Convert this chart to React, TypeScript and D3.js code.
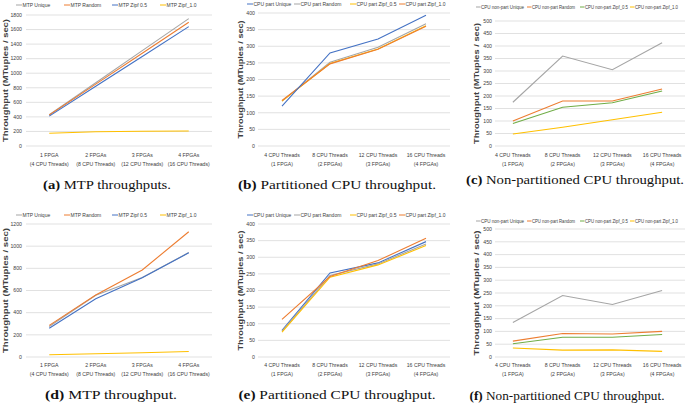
import React from "react";
import * as d3 from "d3";

// ---------- data ----------
const mtpCats = [
  ["1 FPGA", "(4 CPU Threads)"],
  ["2 FPGAs", "(8 CPU Threads)"],
  ["3 FPGAs", "(12 CPU Threads)"],
  ["4 FPGAs", "(16 CPU Threads)"],
];
const cpuCats = [
  ["4 CPU Threads", "(1 FPGA)"],
  ["8 CPU Threads", "(2 FPGAs)"],
  ["12 CPU Threads", "(3 FPGAs)"],
  ["16 CPU Threads", "(4 FPGAs)"],
];

// (a)
const aNames = ["MTP Unique", "MTP Random", "MTP Zipf 0.5", "MTP Zipf_1.0"];
const aUnique = [430, 870, 1310, 1750];
const aRandom = [425, 850, 1275, 1700];
const aZipf05 = [410, 820, 1230, 1640];
const aZipf10 = [175, 195, 202, 207];
const aTicks = [0, 200, 400, 600, 800, 1000, 1200, 1400, 1600, 1800];

// (b)
const bNames = ["CPU part Unique", "CPU part Random", "CPU part Zipf_0.5", "CPU part Zipf_1.0"];
const bUnique = [120, 280, 322, 393];
const bRandom = [135, 252, 297, 368];
const bZipf05 = [135, 248, 292, 362];
const bZipf10 = [137, 247, 291, 360];
const bTicks = [0, 50, 100, 150, 200, 250, 300, 350, 400];

// (c)
const cNames = ["CPU non-part Unique", "CPU non-part Random", "CPU non-part Zipf_0.5", "CPU non-part Zipf_1.0"];
const cUnique = [175, 360, 305, 413];
const cRandom = [100, 180, 180, 228];
const cZipf05 = [90, 155, 173, 220];
const cZipf10 = [48, 75, 105, 135];
const cTicks = [0, 50, 100, 150, 200, 250, 300, 350, 400, 450, 500];

// (d)
const dNames = ["MTP Unique", "MTP Random", "MTP Zipf 0.5", "MTP Zipf_1.0"];
const dUnique = [275, 557, 718, 942];
const dRandom = [285, 560, 785, 1130];
const dZipf05 = [260, 525, 715, 940];
const dZipf10 = [20, 30, 38, 50];
const dTicks = [0, 200, 400, 600, 800, 1000, 1200];

// (e)
const eNames = bNames;
const eUnique = [80, 253, 283, 347];
const eRandom = [78, 245, 280, 340];
const eZipf05 = [75, 240, 277, 335];
const eZipf10 = [113, 242, 290, 357];
const eTicks = bTicks;

// (f)
const fNames = cNames;
const fUnique = [135, 240, 205, 260];
const fRandom = [62, 92, 90, 100];
const fZipf05 = [52, 77, 77, 88];
const fZipf10 = [35, 27, 28, 22];
const fTicks = cTicks;

// ---------- styles ----------
const GRAY = "#A5A5A5";
const ORANGE = "#ED7D31";
const BLUE = "#4472C4";
const YELLOW = "#FFC000";
const GREEN = "#70AD47";
const GRID = "#D9D9D9";
const TXT = "#404040";
const SANS = "'Liberation Sans', Arial, sans-serif";
const SERIF = "'Liberation Serif', 'DejaVu Serif', serif";

type Series = { name: string; values: number[]; color: string };

type PanelProps = {
  cats: string[][];
  series: Series[];
  ticks: number[];
  bandX: [number, number];
  gridX: [number, number];
  yRange: [number, number];
  tickRight: number;
  titleX: number;
  titleLen: number;
  legendY: number;
  legendX: number[];
  legendLen?: number;
  legendLine?: number;
  catY: number;
  captionLabel: string;
  captionText: string;
  captionX: number;
  captionY: number;
  captionLen: number;
  drawOrder?: number[];
};

function Panel(p: PanelProps) {
  const x = d3
    .scalePoint<number>()
    .domain(p.cats.map((_, i) => i))
    .range(p.bandX)
    .padding(0.5);
  const yMax = p.ticks[p.ticks.length - 1];
  const y = d3.scaleLinear().domain([0, yMax]).range(p.yRange);
  const line = d3
    .line<number>()
    .x((_, i) => x(i) as number)
    .y((d) => y(d));
  const titleCenter = (p.yRange[0] + p.yRange[1]) / 2;
  const order = p.drawOrder ?? p.series.map((_, i) => i);
  const ll = p.legendLine ?? 6;
  return (
    <g>
      {p.ticks.map((t) => (
        <g key={t}>
          <line
            x1={p.gridX[0]}
            x2={p.gridX[1]}
            y1={y(t)}
            y2={y(t)}
            stroke={GRID}
            strokeWidth={0.8}
          />
          <text
            x={p.tickRight}
            y={y(t)}
            dy="0.35em"
            textAnchor="end"
            fontSize={5.2}
            fontFamily={SANS}
            fill={TXT}
          >
            {t}
          </text>
        </g>
      ))}
      <text
        transform={`translate(${p.titleX},${titleCenter}) rotate(-90)`}
        textAnchor="middle"
        dy="0.35em"
        fontSize={7.2}
        fontWeight="bold"
        fontFamily={SANS}
        fill={TXT}
        textLength={p.titleLen}
        lengthAdjust="spacingAndGlyphs"
      >
        Throughput (MTuples / sec)
      </text>
      {p.cats.map((c, i) => (
        <g key={i}>
          <text x={x(i)} y={p.catY} textAnchor="middle" fontSize={5.2} fontFamily={SANS} fill={TXT}>
            {c[0]}
          </text>
          <text x={x(i)} y={p.catY + 9} textAnchor="middle" fontSize={5.2} fontFamily={SANS} fill={TXT}>
            {c[1]}
          </text>
        </g>
      ))}
      {order.map((k) => {
        const s = p.series[k];
        return (
          <path key={s.name} d={line(s.values) ?? ""} fill="none" stroke={s.color} strokeWidth={1.1} />
        );
      })}
      {p.series.map((s, i) => (
        <g key={"lg" + s.name}>
          <line
            x1={p.legendX[i]}
            x2={p.legendX[i] + ll}
            y1={p.legendY}
            y2={p.legendY}
            stroke={s.color}
            strokeWidth={1}
          />
          <text
            x={p.legendX[i] + ll + 0.5}
            y={p.legendY}
            dy="0.35em"
            fontSize={5}
            fontFamily={SANS}
            fill={TXT}
            textLength={p.legendLen}
            lengthAdjust={p.legendLen ? "spacingAndGlyphs" : undefined}
          >
            {s.name}
          </text>
        </g>
      ))}
      <text
        x={p.captionX}
        y={p.captionY}
        textAnchor="middle"
        fontSize={12.5}
        fontFamily={SERIF}
        fill="#111"
        textLength={p.captionLen}
        lengthAdjust="spacingAndGlyphs"
      >
        <tspan fontWeight="bold">{p.captionLabel}</tspan>
        <tspan> {p.captionText}</tspan>
      </text>
    </g>
  );
}

function mk(names: string[], vals: number[][], colors: string[]): Series[] {
  return names.map((n, i) => ({ name: n, values: vals[i], color: colors[i] }));
}

export default function App() {
  const mtpColors = [GRAY, ORANGE, BLUE, YELLOW];
  const partColors = [BLUE, GRAY, YELLOW, ORANGE];
  const nonColors = [GRAY, ORANGE, GREEN, YELLOW];
  return (
    <svg
      width={685}
      height={403}
      style={{ position: "absolute", left: 0, top: 0, background: "#fff" }}
    >
      <Panel
        cats={mtpCats}
        series={mk(aNames, [aUnique, aRandom, aZipf05, aZipf10], mtpColors)}
        ticks={aTicks}
        bandX={[26, 212]}
        gridX={[26, 212]}
        yRange={[146, 15]}
        tickRight={22}
        titleX={5}
        titleLen={123}
        legendY={5}
        legendX={[16, 64, 112, 160]}
        catY={157}
        captionLabel="(a)"
        captionText="MTP throughputs."
        captionX={107}
        captionY={189}
        captionLen={128}
      />
      <Panel
        cats={cpuCats}
        series={mk(bNames, [bUnique, bRandom, bZipf05, bZipf10], partColors)}
        ticks={bTicks}
        bandX={[258, 450]}
        gridX={[258, 450]}
        yRange={[146, 13]}
        tickRight={255}
        titleX={240}
        titleLen={118}
        legendY={4}
        legendX={[247, 294, 350, 399]}
        catY={157}
        captionLabel="(b)"
        captionText="Partitioned CPU throughput."
        captionX={337}
        captionY={189}
        captionLen={198}
        drawOrder={[1, 2, 3, 0]}
      />
      <Panel
        cats={cpuCats}
        series={mk(cNames, [cUnique, cRandom, cZipf05, cZipf10], nonColors)}
        ticks={cTicks}
        bandX={[488, 687]}
        gridX={[495, 685]}
        yRange={[146, 21]}
        tickRight={492}
        titleX={476}
        titleLen={121}
        legendY={7}
        legendX={[476, 527, 580, 630]}
        legendLen={43}
        legendLine={4.5}
        catY={157}
        captionLabel="(c)"
        captionText="Non-partitioned CPU throughput."
        captionX={575}
        captionY={184}
        captionLen={218}
      />
      <Panel
        cats={mtpCats}
        series={mk(dNames, [dUnique, dRandom, dZipf05, dZipf10], mtpColors)}
        ticks={dTicks}
        bandX={[26, 212]}
        gridX={[26, 212]}
        yRange={[357, 224]}
        tickRight={22}
        titleX={5}
        titleLen={125}
        legendY={215}
        legendX={[16, 64, 112, 160]}
        catY={367}
        captionLabel="(d)"
        captionText="MTP throughput."
        captionX={111}
        captionY={399}
        captionLen={132}
      />
      <Panel
        cats={cpuCats}
        series={mk(eNames, [eUnique, eRandom, eZipf05, eZipf10], partColors)}
        ticks={eTicks}
        bandX={[258, 450]}
        gridX={[258, 450]}
        yRange={[357, 224]}
        tickRight={255}
        titleX={240}
        titleLen={120}
        legendY={215}
        legendX={[247, 294, 350, 399]}
        catY={367}
        captionLabel="(e)"
        captionText="Partitioned CPU throughput."
        captionX={337}
        captionY={399}
        captionLen={197}
      />
      <Panel
        cats={cpuCats}
        series={mk(fNames, [fUnique, fRandom, fZipf05, fZipf10], nonColors)}
        ticks={fTicks}
        bandX={[488, 687]}
        gridX={[495, 685]}
        yRange={[357, 229]}
        tickRight={492}
        titleX={476}
        titleLen={125}
        legendY={221}
        legendX={[476, 527, 580, 630]}
        legendLen={43}
        legendLine={4.5}
        catY={367}
        captionLabel="(f)"
        captionText="Non-partitioned CPU throughput."
        captionX={567}
        captionY={400}
        captionLen={195}
      />
    </svg>
  );
}
